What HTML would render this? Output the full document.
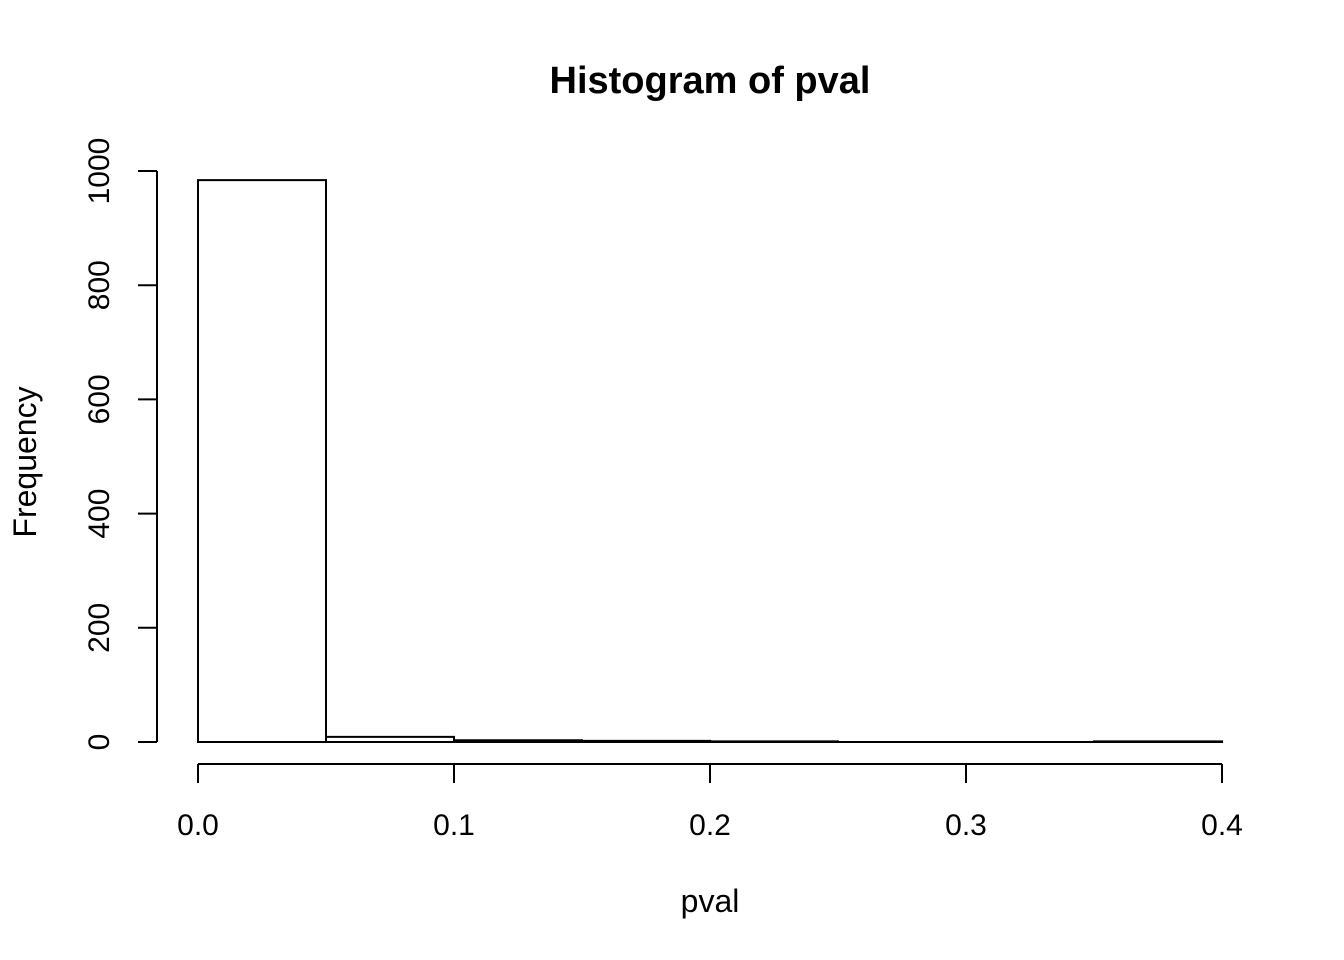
<!DOCTYPE html>
<html><head><meta charset="utf-8"><style>
html,body{margin:0;padding:0;background:#fff;}
svg{display:block;font-family:"Liberation Sans",Arial,sans-serif;}
</style></head><body>
<svg id="chart" width="1344" height="960">
<text x="710" y="93" text-anchor="middle" font-size="38" font-weight="bold">Histogram of pval</text>
<text x="710" y="912" text-anchor="middle" font-size="32">pval</text>
<text transform="translate(36,462) rotate(-90)" text-anchor="middle" font-size="32">Frequency</text>
<g id="bars"></g><g id="xaxis"></g><g id="yaxis"></g>
</svg>
<script>
const binEdges=[0,0.05,0.1,0.15,0.2,0.25,0.3,0.35,0.4];
const counts=[984,9,3,2,1,0,0,1];
const xTicks=[0,0.1,0.2,0.3,0.4];
const xTickLabels=["0.0","0.1","0.2","0.3","0.4"];
const yTicks=[0,200,400,600,800,1000];
const yTickLabels=["0","200","400","600","800","1000"];
const NS="http://www.w3.org/2000/svg";
const X=v=>198+v*(1222-198)/0.4;
const Y=v=>742-v*(742-171)/1000;
function mk(t,a,p){const e=document.createElementNS(NS,t);for(const k in a)e.setAttribute(k,a[k]);p.appendChild(e);return e;}
const bars=document.getElementById('bars');
counts.forEach((c,i)=>{
  const x0=X(binEdges[i]),x1=X(binEdges[i+1]),y=Y(c),b=Y(0);
  const r=mk('path',{d:`M${x0},${b}L${x0},${y}L${x1},${y}L${x1},${b}Z`,fill:'none',stroke:'#000','stroke-width':2},bars);
  
  
});
const xa=document.getElementById('xaxis');
const xl=mk('line',{x1:X(xTicks[0]),x2:X(xTicks[xTicks.length-1]),y1:764,y2:764,stroke:'#000','stroke-width':2},xa);


xTicks.forEach((t,i)=>{
  mk('line',{x1:X(t),x2:X(t),y1:764,y2:783,stroke:'#000','stroke-width':2},xa);
  const tx=mk('text',{x:X(t),y:835,'text-anchor':'middle','font-size':30},xa);
  tx.textContent=xTickLabels[i];
  
  
});
const ya=document.getElementById('yaxis');
const yl=mk('line',{x1:157,x2:157,y1:Y(yTicks[0]),y2:Y(yTicks[yTicks.length-1]),stroke:'#000','stroke-width':2},ya);


yTicks.forEach((t,i)=>{
  mk('line',{x1:138,x2:157,y1:Y(t),y2:Y(t),stroke:'#000','stroke-width':2},ya);
  const tx=mk('text',{transform:`translate(109,${Y(t)}) rotate(-90)`,'text-anchor':'middle','font-size':30},ya);
  tx.textContent=yTickLabels[i];
  
  
});
</script>
</body></html>
